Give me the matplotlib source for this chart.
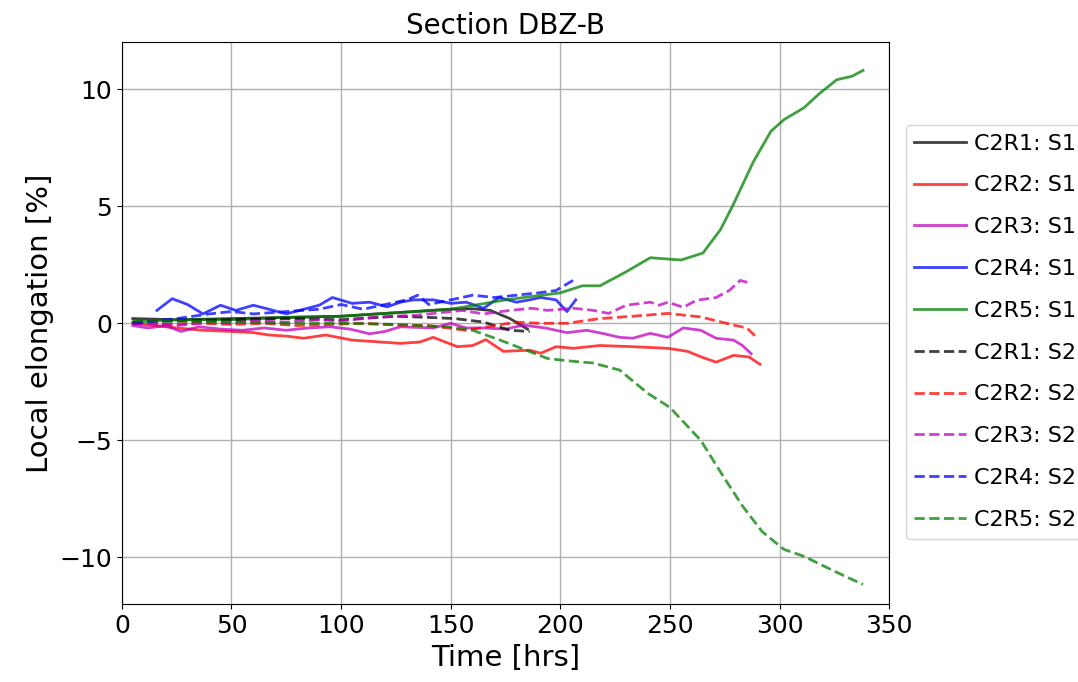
import numpy as np
import matplotlib
matplotlib.use("Agg")
import matplotlib.pyplot as plt

# values (time in hrs, elongation in %)
t_r1_s1 = [5, 25, 50, 75, 100, 125, 150, 160, 168, 177, 185]
v_r1_s1 = [0.2, 0.15, 0.2, 0.25, 0.3, 0.45, 0.6, 0.62, 0.55, 0.2, -0.25]

t_r2_s1 = [5, 15, 25, 37, 50, 60, 67, 75, 83, 93, 105, 118, 127, 136, 142, 153, 160, 166,
           174, 186, 191, 198, 206, 218, 233, 249, 258, 264, 271, 279, 286, 291]
v_r2_s1 = [0.0, -0.1, -0.2, -0.3, -0.35, -0.4, -0.5, -0.55, -0.64, -0.5, -0.72, -0.8, -0.86,
           -0.8, -0.6, -1.0, -0.95, -0.7, -1.2, -1.15, -1.28, -1.0, -1.07, -0.95, -1.0, -1.07,
           -1.2, -1.43, -1.66, -1.37, -1.44, -1.75]

t_r3_s1 = [5, 12, 20, 27, 35, 45, 55, 65, 75, 85, 95, 104, 113, 120, 127, 142, 150, 157, 165,
           175, 183, 193, 203, 212, 220, 227, 233, 241, 249, 256, 264, 271, 279, 283, 287]
v_r3_s1 = [-0.1, -0.2, -0.1, -0.35, -0.15, -0.25, -0.3, -0.2, -0.3, -0.2, -0.15, -0.25, -0.45,
           -0.35, -0.15, -0.2, 0.0, -0.2, -0.2, -0.25, -0.08, -0.2, -0.4, -0.3, -0.45, -0.6,
           -0.64, -0.43, -0.6, -0.2, -0.3, -0.64, -0.72, -0.95, -1.3]

t_r4_s1 = [16, 23, 30, 37, 45, 52, 60, 67, 75, 83, 90, 96, 105, 113, 121, 127, 133, 142, 150,
           157, 165, 172, 180, 186, 191, 198, 203, 207]
v_r4_s1 = [0.55, 1.05, 0.8, 0.4, 0.77, 0.55, 0.77, 0.6, 0.4, 0.6, 0.77, 1.1, 0.85, 0.9, 0.7,
           0.9, 1.0, 1.0, 0.85, 0.9, 0.64, 1.1, 0.9, 1.0, 1.1, 1.0, 0.5, 1.0]

t_r5_s1 = [5, 25, 50, 75, 100, 125, 150, 175, 200, 210, 218, 230, 241, 255, 265, 273, 279,
           288, 296, 302, 311, 318, 326, 333, 338]
v_r5_s1 = [0.05, 0.15, 0.15, 0.25, 0.3, 0.45, 0.6, 1.0, 1.3, 1.6, 1.6, 2.2, 2.8, 2.7, 3.0,
           4.0, 5.1, 6.9, 8.2, 8.7, 9.2, 9.8, 10.4, 10.55, 10.8]

t_r1_s2 = [5, 25, 50, 75, 100, 125, 140, 152, 165, 177, 186]
v_r1_s2 = [0.05, 0.1, 0.15, 0.2, 0.15, 0.3, 0.25, 0.2, 0.05, -0.3, -0.35]

t_r2_s2 = [5, 20, 35, 50, 65, 80, 95, 110, 127, 140, 157, 170, 180, 190, 203, 218, 233, 249,
           264, 279, 285, 290]
v_r2_s2 = [0.0, -0.05, 0.0, -0.05, 0.0, -0.1, -0.05, 0.0, -0.08, -0.1, -0.3, -0.1, 0.05, 0.0,
           0.0, 0.2, 0.3, 0.42, 0.27, -0.08, -0.2, -0.65]

t_r3_s2 = [5, 15, 25, 40, 50, 60, 75, 90, 100, 115, 125, 135, 145, 155, 165, 177, 187, 194,
           206, 215, 222, 230, 241, 245, 249, 256, 262, 271, 277, 282, 287]
v_r3_s2 = [-0.05, 0.0, -0.1, 0.05, 0.0, 0.1, 0.05, 0.15, 0.1, 0.25, 0.3, 0.35, 0.45, 0.55,
           0.4, 0.55, 0.64, 0.55, 0.64, 0.55, 0.42, 0.77, 0.9, 0.77, 0.9, 0.68, 0.98, 1.1, 1.4,
           1.83, 1.7]

t_r4_s2 = [5, 15, 25, 40, 50, 60, 75, 90, 100, 110, 120, 130, 135, 140, 150, 160, 170, 180,
           190, 198, 207]
v_r4_s2 = [0.0, 0.1, 0.2, 0.4, 0.5, 0.4, 0.5, 0.6, 0.8, 0.6, 0.8, 1.0, 1.2, 0.8, 1.0, 1.2,
           1.1, 1.2, 1.3, 1.4, 1.9]

t_r5_s2 = [5, 25, 50, 75, 100, 125, 150, 160, 172, 183, 194, 203, 215, 227, 240, 250, 264,
           274, 283, 292, 302, 311, 323, 332, 338]
v_r5_s2 = [0.1, 0.1, 0.05, 0.0, 0.0, -0.05, -0.16, -0.3, -0.7, -1.1, -1.5, -1.6, -1.7, -2.0,
           -3.0, -3.6, -5.0, -6.5, -7.8, -8.9, -9.66, -9.95, -10.5, -10.9, -11.15]

series = [
    ("C2R1: S1", t_r1_s1, v_r1_s1, "k", "-"),
    ("C2R2: S1", t_r2_s1, v_r2_s1, "r", "-"),
    ("C2R3: S1", t_r3_s1, v_r3_s1, "m", "-"),
    ("C2R4: S1", t_r4_s1, v_r4_s1, "b", "-"),
    ("C2R5: S1", t_r5_s1, v_r5_s1, "g", "-"),
    ("C2R1: S2", t_r1_s2, v_r1_s2, "k", "--"),
    ("C2R2: S2", t_r2_s2, v_r2_s2, "r", "--"),
    ("C2R3: S2", t_r3_s2, v_r3_s2, "m", "--"),
    ("C2R4: S2", t_r4_s2, v_r4_s2, "b", "--"),
    ("C2R5: S2", t_r5_s2, v_r5_s2, "g", "--"),
]

fig = plt.figure(figsize=(10.78, 6.82), dpi=100)
ax = fig.add_axes([0.113, 0.114, 0.712, 0.824])

for label, t, v, c, ls in series:
    ax.plot(t, v, color=c, linestyle=ls, linewidth=2, alpha=0.75, label=label)

ax.set_xlim(0, 350)
ax.set_ylim(-12, 12)
ax.set_xticks([0, 50, 100, 150, 200, 250, 300, 350])
ax.set_yticks([-10, -5, 0, 5, 10])
ax.grid(True, color="#b0b0b0", linewidth=1)
ax.tick_params(labelsize=18)
ax.set_xlabel("Time [hrs]", fontsize=21)
ax.set_ylabel("Local elongation [%]", fontsize=21)
ax.set_title("Section DBZ-B", fontsize=20)

ax.legend(loc="upper left", bbox_to_anchor=(0.84, 0.817), bbox_transform=fig.transFigure,
          fontsize=16, handlelength=2.3, handletextpad=0.4, labelspacing=0.98,
          borderaxespad=0)

fig.savefig("out.png", dpi=100)
